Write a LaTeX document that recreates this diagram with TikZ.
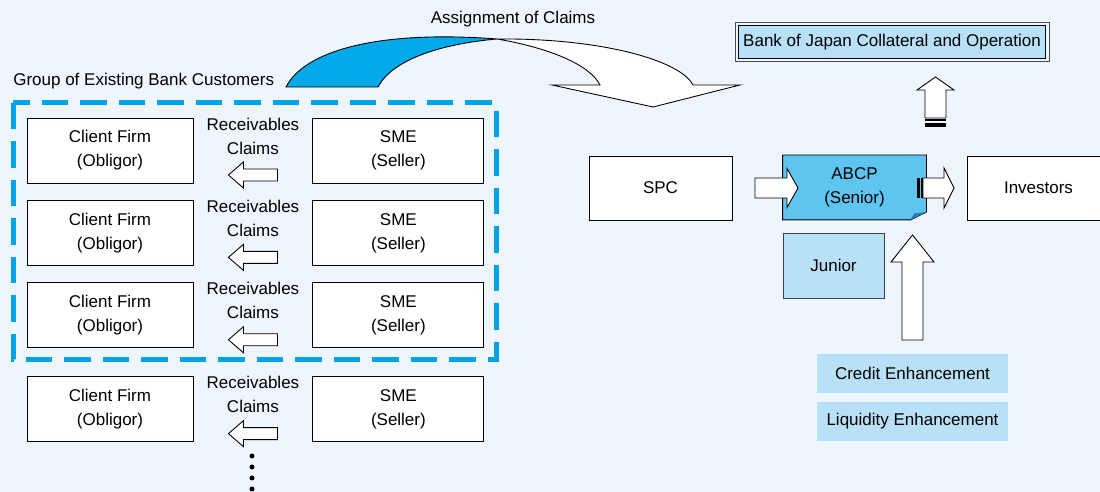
\documentclass[tikz,border=0pt]{standalone}
\usepackage{fontspec}
\setmainfont{Liberation Sans}
\usepackage{xcolor}
\usetikzlibrary{positioning,calc,backgrounds}
\definecolor{bgblue}{RGB}{239,245,252}
\definecolor{dashblue}{RGB}{0,163,230}
\definecolor{curveblue}{RGB}{0,169,232}
\definecolor{seniorblue}{RGB}{94,196,240}
\definecolor{paleblue}{RGB}{184,224,247}
\definecolor{foldblue}{RGB}{30,130,180}
\tikzset{
 box/.style={rectangle,draw,fill=white,align=center,inner sep=0pt,line width=0.5pt},
 firm/.style={box,minimum width=33.2mm,minimum height=13mm},
 seller/.style={box,minimum width=34.2mm,minimum height=13mm},
 vehicle/.style={box,minimum width=28.6mm,minimum height=12.8mm},
 senior/.style={vehicle,draw=none,fill=none},
 junior/.style={box,fill=paleblue,draw=black!75,minimum width=20.2mm,minimum height=13mm},
 enhance/.style={rectangle,fill=paleblue,inner sep=0pt,minimum width=38.2mm,minimum height=7.8mm},
 boj/.style={box,fill=paleblue,minimum width=61.4mm,minimum height=6.6mm},
 bojframe/.style={draw=black!70,line width=0.5pt},
 claimtext/.style={align=center,inner sep=0pt},
 phantom/.style={rectangle,inner sep=0pt,draw=none,fill=none},
 group/.style={draw=dashblue,line width=1mm,dash pattern=on 5.3mm off 2.4mm},
 blockarrow/.style={draw,fill=white,line width=0.5pt,line join=miter},
 leftblock/.pic={\draw[blockarrow] (24.5,-6) -- (-9.5,-6) -- (-9.5,-13) -- (-24.5,0)
   -- (-9.5,13) -- (-9.5,6) -- (24.5,6) -- cycle;}}

\begin{document}
\begin{tikzpicture}[x=0.2mm,y=-0.2mm,font=\fontsize{9.67}{13.66}\selectfont]
  \begin{scope}[on background layer]
    \fill[bgblue] (0,0) rectangle (1100,492);
  \end{scope}
  \useasboundingbox (0,0) rectangle (1100,492);
  \clip (0,0) rectangle (1100,492);

  % left: bank customers
  \node[phantom,anchor=base west] (grp) at (13,86) {Group of Existing Bank Customers};
  \draw[group] (13,103) rectangle (496,360);

  \node[firm] (cf1) at (110,150.5) {Client Firm\\(Obligor)};
  \node[firm] (cf2) [below=3.3mm of cf1] {Client Firm\\(Obligor)};
  \node[firm] (cf3) [below=3.3mm of cf2] {Client Firm\\(Obligor)};
  \node[firm] (cf4) [below=5.6mm of cf3] {Client Firm\\(Obligor)};
  \node[seller] (sme1) [right=23.8mm of cf1] {SME\\(Seller)};
  \node[seller] (sme2) [right=23.8mm of cf2] {SME\\(Seller)};
  \node[seller] (sme3) [right=23.8mm of cf3] {SME\\(Seller)};
  \node[seller] (sme4) [right=23.8mm of cf4] {SME\\(Seller)};
  \node[claimtext] (rc1) at ($(cf1.east)!0.5!(sme1.west)+(0,-14.5)$) {Receivables\\Claims};
  \node[claimtext] (rc2) at ($(cf2.east)!0.5!(sme2.west)+(0,-14.5)$) {Receivables\\Claims};
  \node[claimtext] (rc3) at ($(cf3.east)!0.5!(sme3.west)+(0,-14.5)$) {Receivables\\Claims};
  \node[claimtext] (rc4) at ($(cf4.east)!0.5!(sme4.west)+(0,-14.5)$) {Receivables\\Claims};
  \pic at ($(cf1.east)!0.5!(sme1.west)+(0,24.5)$) {leftblock};
  \pic at ($(cf2.east)!0.5!(sme2.west)+(0,24.5)$) {leftblock};
  \pic at ($(cf3.east)!0.5!(sme3.west)+(0,24.5)$) {leftblock};
  \pic at ($(cf4.east)!0.5!(sme4.west)+(0,24.5)$) {leftblock};
  \foreach \y in {456,467,478,489}
    \fill (252,\y) circle (0.5mm);

  % assignment arrow
  \node[phantom] (assign) at (513,19) {Assignment of Claims};
  \draw[fill=curveblue,line width=0.5pt] (286,87) .. controls (305,50) and (380,30) .. (497,39)
    .. controls (440,44) and (392,60) .. (378,87) -- cycle;
  \draw[blockarrow] (497,39) .. controls (600,38) and (680,60) .. (693,85) -- (740,85)
    -- (653,107) -- (552,85) -- (600,85) .. controls (590,65) and (550,48) .. (497,39) -- cycle;

  % right: SPC and ABCP
  \node[vehicle] (spc) at (660.5,188) {SPC};
  \node[senior] (abcp) at (854.5,187.5) {ABCP\\(Senior)};
  \node[vehicle] (inv) at (1038.5,188) {Investors};
  \node[junior] (jun) at (833.5,265.5) {Junior};
  \node[enhance] (credit) at (912.5,373.5) {Credit Enhancement};
  \node[enhance] (liquid) at (912.5,421.5) {Liquidity Enhancement};
  \node[boj] (boj) at (892,42) {Bank of Japan Collateral and Operation};
  \draw[bojframe] ([shift={(-0.6mm,0.6mm)}]boj.north west) rectangle ([shift={(0.6mm,-0.6mm)}]boj.south east);
  \begin{scope}[on background layer]
    \draw[fill=seniorblue,line width=0.5pt] (abcp.north west) -- (abcp.north east)
      -- ([yshift=1.6mm]abcp.south east) -- ([xshift=-3.2mm]abcp.south east)
      -- (abcp.south west) -- cycle;
    \fill[foldblue] ([xshift=-3.2mm]abcp.south east) -- ([xshift=-2.4mm,yshift=1.3mm]abcp.south east)
      -- ([yshift=1.6mm]abcp.south east) -- cycle;
  \end{scope}

  \draw[blockarrow] (755,178) -- (787,178) -- (787,168.5) -- (798,188) -- (787,207.5)
    -- (787,198) -- (755,198) -- cycle;
  \fill (917,178) rectangle (920,198);
  \fill (921,178) rectangle (922.5,198);
  \draw[blockarrow] (923,178) -- (944,178) -- (944,168) -- (954,188) -- (944,208)
    -- (944,198) -- (923,198) -- cycle;
  \draw[blockarrow] (925,118) -- (925,90) -- (917,90) -- (935.5,77) -- (954,90)
    -- (946,90) -- (946,118) -- cycle;
  \fill (925,119) rectangle (946,121);
  \fill (925,123) rectangle (946,127.5);
  \draw[blockarrow] (902,340) -- (902,262) -- (891,262) -- (912.5,235) -- (934,262)
    -- (923,262) -- (923,340) -- cycle;
\end{tikzpicture}
\end{document}
